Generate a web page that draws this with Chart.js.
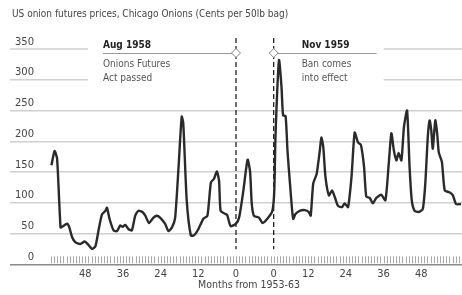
<!DOCTYPE html>
<html><head><meta charset="utf-8">
<script src="https://cdn.jsdelivr.net/npm/chart.js@4.4.0/dist/chart.umd.min.js"></script>
<style>html,body{margin:0;padding:0;background:#fff;}#wrap{width:462px;height:295px;}</style>
</head><body><div id="wrap"><canvas id="c" width="462" height="295"></canvas></div>
<script>
const titleText = 'US onion futures prices, Chicago Onions (Cents per 50lb bag)';
const xAxisTitle = 'Months from 1953-63';
// month position along the axis (0 = Aug 1958 event)
const months = [-58.8,-57.8,-57.0,-55.9,-55.4,-53.8,-53.1,-52.2,-51.2,-49.6,
 -48.2,-47.1,-45.9,-44.8,-43.8,-42.7,-41.6,-41.1,-40.3,-39.0,
 -37.9,-36.9,-36.1,-35.3,-34.2,-33.2,-32.1,-31.1,-29.8,-28.9,
 -27.7,-26.3,-25.2,-24.2,-22.6,-21.5,-20.4,-19.4,-18.3,-17.3,
 -16.8,-15.7,-14.4,-13.4,-12.0,-10.4,-9.1,-8.0,-7.0,-6.1,
 -5.4,-4.9,-3.5,-2.8,-1.7,0,1.0,2.3,3.7,4.5,
 5.0,5.7,7.3,8.5,10.3,11.6,12.2,12.6,13.7,14.5,
 15.0,15.8,16.4,17.2,18.2,19.0,20.3,21.9,23.2,23.8,
 24.6,25.7,26.7,27.2,27.8,28.5,29.6,30.6,31.5,32.5,
 33.8,34.6,35.7,36.8,37.8,38.9,39.8,40.8,41.5,42.6,
 43.6,44.7,46.3,47.6,48.7,49.5,50.3,51.1,51.8,52.7,
 53.5,54.5,55.3,56.0,56.9,58.2,59.5,60.3,61.1,61.7,
 62.2,62.7,63.5,64.1,64.6,65.6,66.5,68.0,69.1,70.1,
 71.7];
const prices = [161,184,172,60,61,66,60,44,36,33,
 37,32,25,29,55,81,87,92,74,55,
 54,63,61,64,57,55,79,87,85,79,
 67,76,79,76,66,54,60,75,158,240,
 229,104,47,47,57,74,79,133,139,151,
 136,87,82,80,62,66,76,118,170,150,
 100,79,76,67,76,87,120,212,332,288,
 242,241,185,131,74,82,87,88,85,79,
 131,147,185,206,191,142,112,120,109,95,
 93,99,93,142,214,198,194,158,110,108,
 99,108,113,104,166,213,185,169,181,169,
 223,250,158,104,87,85,90,131,207,234,
 218,188,234,212,182,166,120,117,112,98,
 98];
const yTickValues = [0,50,100,150,200,250,300,350];
const partialGridValues = [300,350];
const xTickPositions = [-48,-36,-24,-12,0,12,23,35,47,59];
const xTickLabels = ['48','36','24','12','0','0','12','24','36','48'];
const eventMonths = [0,12];
const eventTitles = ['Aug 1958','Nov 1959'];
const eventNotes = [['Onions Futures','Act passed'],['Ban comes','into effect']];

const NARROW = "'Liberation Sans Narrow','DejaVu Sans Condensed',sans-serif";
const gridColor = '#d0d0d0';

const decor = {
  id: 'decor',
  beforeDatasetsDraw(chart) {
    const {ctx, chartArea: ca, scales: {x, y}} = chart;
    const e0 = x.getPixelForValue(eventMonths[0]);
    const e1 = x.getPixelForValue(eventMonths[1]);
    ctx.save();
    ctx.strokeStyle = gridColor; ctx.lineWidth = 1.5;
    partialGridValues.forEach(v => {
      const py = y.getPixelForValue(v);
      ctx.beginPath();
      ctx.moveTo(ca.left, py); ctx.lineTo(e0 - 148, py);
      ctx.moveTo(e1 + 110, py); ctx.lineTo(ca.right, py);
      ctx.stroke();
    });
    ctx.strokeStyle = '#aaa'; ctx.lineWidth = 1;
    for (let m = Math.floor(months[0]); m <= x.max; m++) {
      const px = Math.round(x.getPixelForValue(m)) + 0.5;
      ctx.beginPath(); ctx.moveTo(px, ca.bottom - 8); ctx.lineTo(px, ca.bottom - 1); ctx.stroke();
    }
    ctx.strokeStyle = '#222'; ctx.lineWidth = 1.3; ctx.setLineDash([5,3]);
    [e0, e1].forEach(px => {
      ctx.beginPath(); ctx.moveTo(px, ca.top - 11); ctx.lineTo(px, ca.bottom - 15); ctx.stroke();
    });
    ctx.restore();
  },
  afterDatasetsDraw(chart) {
    const {ctx, chartArea: ca, scales: {x}} = chart;
    const e0 = x.getPixelForValue(eventMonths[0]);
    const e1 = x.getPixelForValue(eventMonths[1]);
    const ay = ca.top + 4;
    ctx.save();
    ctx.strokeStyle = '#999'; ctx.lineWidth = 1;
    ctx.beginPath(); ctx.moveTo(e0 - 133, ay + 0.5); ctx.lineTo(e0, ay + 0.5);
    ctx.moveTo(e1, ay + 0.5); ctx.lineTo(e1 + 103, ay + 0.5); ctx.stroke();
    [e0, e1].forEach(px => {
      ctx.beginPath();
      ctx.moveTo(px, ay - 4.5); ctx.lineTo(px + 4.5, ay); ctx.lineTo(px, ay + 4.5); ctx.lineTo(px - 4.5, ay); ctx.closePath();
      ctx.fillStyle = '#fff'; ctx.fill(); ctx.strokeStyle = '#888'; ctx.stroke();
    });
    const tx = [e0 - 133, e1 + 28];
    ctx.textAlign = 'left'; ctx.textBaseline = 'alphabetic';
    tx.forEach((px, i) => {
      ctx.fillStyle = '#222'; ctx.font = 'bold 10px ' + NARROW;
      ctx.fillText(eventTitles[i], px, ay - 5.5);
      ctx.fillStyle = '#555'; ctx.font = '10px ' + NARROW;
      ctx.fillText(eventNotes[i][0], px, ay + 14);
      ctx.fillText(eventNotes[i][1], px, ay + 27.5);
    });
    ctx.fillStyle = '#444'; ctx.font = '10.5px ' + NARROW; ctx.textAlign = 'center';
    ctx.fillText(xAxisTitle, (ca.left + ca.right) / 2 + 13, 288);
    ctx.textAlign = 'left'; ctx.font = '10px ' + NARROW;
    ctx.fillText(titleText, 12, 16.5);
    ctx.restore();
  }
};

new Chart(document.getElementById('c'), {
  type: 'line',
  data: {
    datasets: [{
      data: months.map((m, i) => ({x: m, y: prices[i]})),
      borderColor: '#2a2a2a', borderWidth: 2.4, pointRadius: 0, tension: 0.2, fill: false
    }]
  },
  options: {
    responsive: false, animation: false, devicePixelRatio: 1,
    layout: {padding: {left: 0, right: 0, top: 49, bottom: 11.5}},
    plugins: {legend: {display: false}, tooltip: {enabled: false}, title: {display: false}},
    scales: {
      x: {
        type: 'linear', min: -72, max: 72,
        grid: {display: false, drawTicks: false}, border: {display: false},
        afterBuildTicks: s => { s.ticks = xTickPositions.map(v => ({value: v})); },
        ticks: {autoSkip: false, maxRotation: 0, padding: 3, color: '#444',
          font: {family: NARROW, size: 11},
          callback: (v, i) => xTickLabels[i]}
      },
      y: {
        min: 0, max: 350,
        afterBuildTicks: s => { s.ticks = yTickValues.map(v => ({value: v})); },
        grid: {drawTicks: false, lineWidth: 1.5,
          color: c => partialGridValues.includes(c.tick.value) ? 'rgba(0,0,0,0)' : (c.tick.value === 0 ? '#8a8a8a' : gridColor)},
        border: {display: false},
        ticks: {mirror: true, crossAlign: 'far', padding: 5, labelOffset: -7, color: '#444',
          font: {family: "'DejaVu Sans',sans-serif", size: 10}}
      }
    }
  },
  plugins: [decor]
});
</script></body></html>
